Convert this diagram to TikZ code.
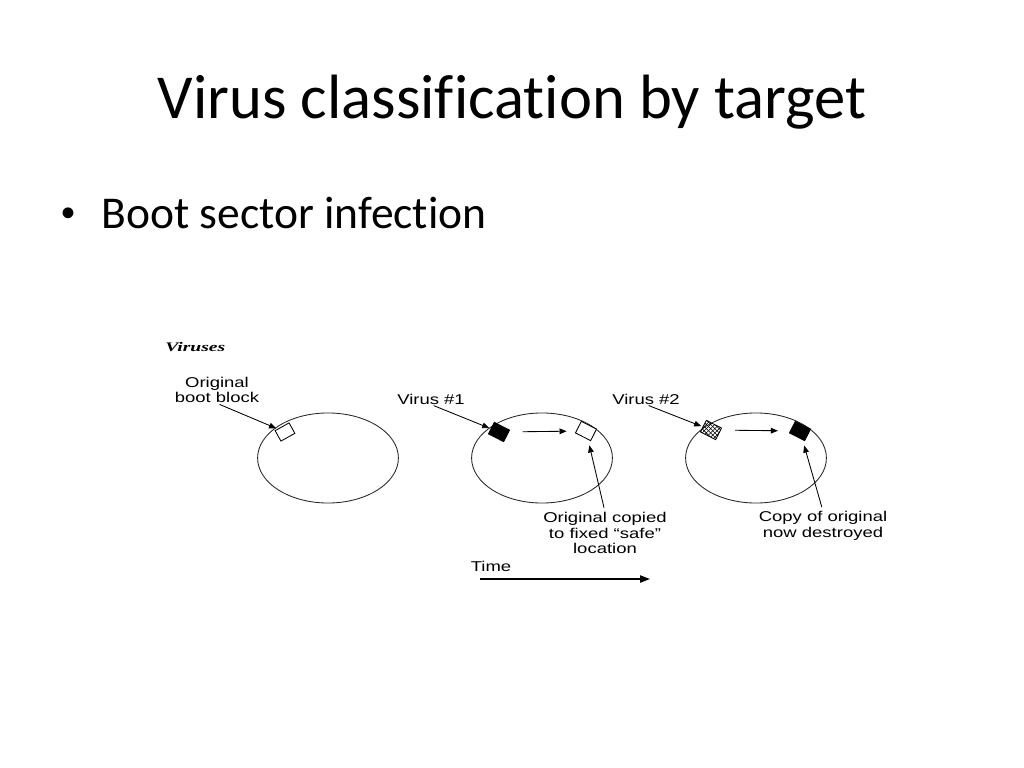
\documentclass[tikz,border=0pt]{standalone}
\usepackage{fontspec}
\setmainfont{Carlito}[Ligatures={NoCommon}]
\newfontfamily\figfont[FakeStretch=1.3]{Liberation Sans}
\newfontfamily\dotfont{Liberation Sans}
\newfontfamily\capfont[FakeStretch=1.5]{Liberation Serif}
\usetikzlibrary{arrows.meta,positioning,patterns,shapes.geometric}

\tikzset{
  disk/.style={draw=black!85, line width=0.6pt, ellipse, minimum width=99pt, minimum height=63.3pt, inner sep=0pt},
  block/.style={draw, line width=0.6pt, rectangle, minimum width=12pt, minimum height=9.1pt, inner sep=0pt, rotate=-27},
  lbl/.style={font=\figfont\fontsize{10pt}{11pt}\selectfont, align=center, inner sep=0pt},
  flow/.style={-{Triangle[length=5pt,width=4pt]}, line width=0.6pt},
}

\begin{document}
\begin{tikzpicture}[x=0.703pt, y=-0.703pt]
    \path[use as bounding box, fill=white] (0,0) rectangle (1024,768);

    % Slide text
    \node[anchor=base, inner sep=0pt, font=\fontsize{44pt}{50pt}\selectfont] (title) at (512,118) {Virus classification by target};
    \node[anchor=base west, inner sep=0pt, font=\dotfont\fontsize{28pt}{34pt}\selectfont] (bullet) at (61,226) {•};
    \node[anchor=base west, inner sep=0pt, font=\fontsize{32pt}{38pt}\selectfont] (point) at (101,228) {Boot sector infection};

    \node[anchor=base west, inner sep=0pt, font=\capfont\bfseries\itshape\fontsize{9.2pt}{10pt}\selectfont] (caption) at (165,351) {Viruses};

    % Disk 1: original boot block
    \node[disk] (diskA) at (328,458) {};
    \node[block, rotate=56, minimum width=11.2pt, minimum height=8.4pt, fill=white] (bootA) at (285,432) {};
    \node[lbl] (bootlbl) at (217,390) {Original\\boot block};
    \draw[flow, shorten <=2pt, shorten >=1pt] (bootlbl.south) -- (bootA);

    % Disk 2: virus #1
    \node[disk] (diskB) at (542,458) {};
    \node[block, fill=black] (blkB) at (499,432) {};
    \node[block, fill=white] (safeB) at (586,431) {};
    \node[lbl] (virusB) at (431,399) {Virus \#1};
    \node[lbl] (safelbl) at (605,533) {Original copied\\to fixed “safe”\\location};
    \draw[flow, shorten <=2pt, shorten >=1pt] (virusB.south) -- (blkB);
    \draw[flow, shorten <=9.5pt, shorten >=6.5pt] (blkB) -- (safeB);
    \draw[flow, shorten <=3pt, shorten >=4pt] (safelbl.north) -- (safeB);

    % Disk 3: virus #2
    \node[disk] (diskC) at (756,458) {};
    \node[block, pattern=crosshatch] (hatC) at (711,430) {};
    \node[block, fill=black] (blkC) at (800,431) {};
    \node[lbl] (virusC) at (646,399) {Virus \#2};
    \node[lbl] (copylbl) at (823,526) {Copy of original\\now destroyed};
    \draw[flow, shorten <=2pt, shorten >=1pt] (virusC.south) -- (hatC);
    \draw[flow, shorten <=10pt, shorten >=8.5pt] (hatC) -- (blkC);
    \draw[flow, shorten <=3pt, shorten >=4pt] (copylbl.north) -- (blkC);

    % Time
    \node[lbl] (timelbl) at (491,566) {Time};
    \coordinate (t0) at (480,579);
    \coordinate (t1) at (650,579);
    \draw[-{Triangle[length=7pt,width=5pt]}, line width=1.2pt] (t0) -- (t1);
\end{tikzpicture}
\end{document}
